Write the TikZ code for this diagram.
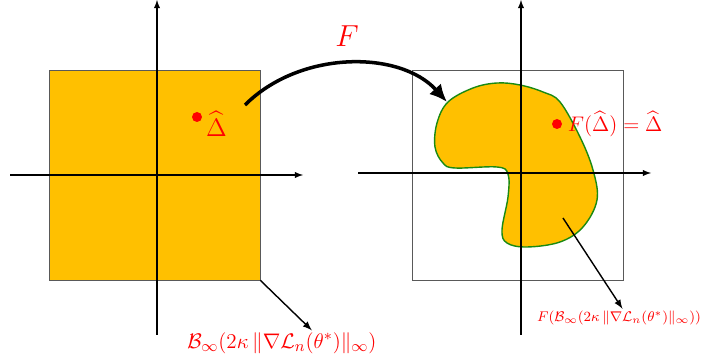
\documentclass[tikz,border=0pt]{standalone}
\usepackage{amsmath}
\usepackage{amsfonts}
\usepackage{amssymb}
\usepackage{tikz}
\usetikzlibrary{positioning,arrows.meta}
\definecolor{ballfill}{HTML}{FFC000}
\definecolor{blobline}{HTML}{1A8A12}

\begin{document}
\begin{tikzpicture}[x=0.02cm,y=-0.02cm,>=latex]
  \tikzstyle{axis}=[->,semithick]
  \tikzstyle{ball}=[draw=black!65,minimum width=4.22cm,minimum height=4.2cm,inner sep=0pt]
  \tikzstyle{dot}=[circle,fill=red,inner sep=0pt,minimum size=2mm]
  \tikzstyle{lbl}=[text=red,inner sep=1pt]
  \useasboundingbox (0,0) rectangle (701,364);

  % left: the box
  \node[ball,fill=ballfill] (boxL) at (154.5,175) {};
  \draw[axis] (10,175) -- (303,175);
  \draw[axis] (157,335) -- (157,0);
  \node[dot] (dotL) at (197,117) {};
  \node[lbl,right=1pt of dotL,yshift=-4pt] (deltaL) {\Large$\widehat{\Delta}$};
  \node[lbl] (ballL) at (282,343) {\fontsize{12.6}{15}\selectfont$\mathcal{B}_\infty(2\kappa\,\|\nabla\mathcal{L}_n(\theta^*)\|_\infty)$};
  \draw[->,thick] (boxL.south east) -- ([xshift=17pt]ballL.north);

  % right: image of the box
  \node[ball] (boxR) at (518,175) {};
  \draw[blobline,fill=ballfill,thick] plot[smooth cycle,tension=0.6] coordinates {
    (448,102) (437,123) (435,147) (443,163) (455,168) (497,167) (508,174)
    (508,197) (502,230) (507,243) (527,247) (560,242) (583,227) (597,200)
    (593,170) (580,137) (560,102) (543,92) (520,85) (497,83) (473,88)};
  \draw[axis] (358,173) -- (651,173);
  \draw[axis] (521,335) -- (521,0);
  \node[dot] (dotR) at (557,124) {};
  \node[lbl,right=2pt of dotR] (deltaR) {\large$F(\widehat{\Delta})=\widehat{\Delta}$};
  \coordinate (blobin) at (563,218);
  \node[lbl] (ballR) at (619,318) {\fontsize{8.5}{10}\selectfont$F(\mathcal{B}_\infty(2\kappa\,\|\nabla\mathcal{L}_n(\theta^*)\|_\infty))$};
  \draw[->,thick] (blobin) -- ([xshift=2pt]ballR.north);

  % the map F
  \coordinate (fstart) at (245,105);
  \coordinate (fend) at (447,102);
  \draw[-{Latex[length=10pt,width=9pt]},line width=2pt] (fstart) .. controls +(55,-55) and +(-47,-52) .. (fend);
  \node[lbl] (mapF) at (347,36) {\LARGE$F$};
\end{tikzpicture}
\end{document}
